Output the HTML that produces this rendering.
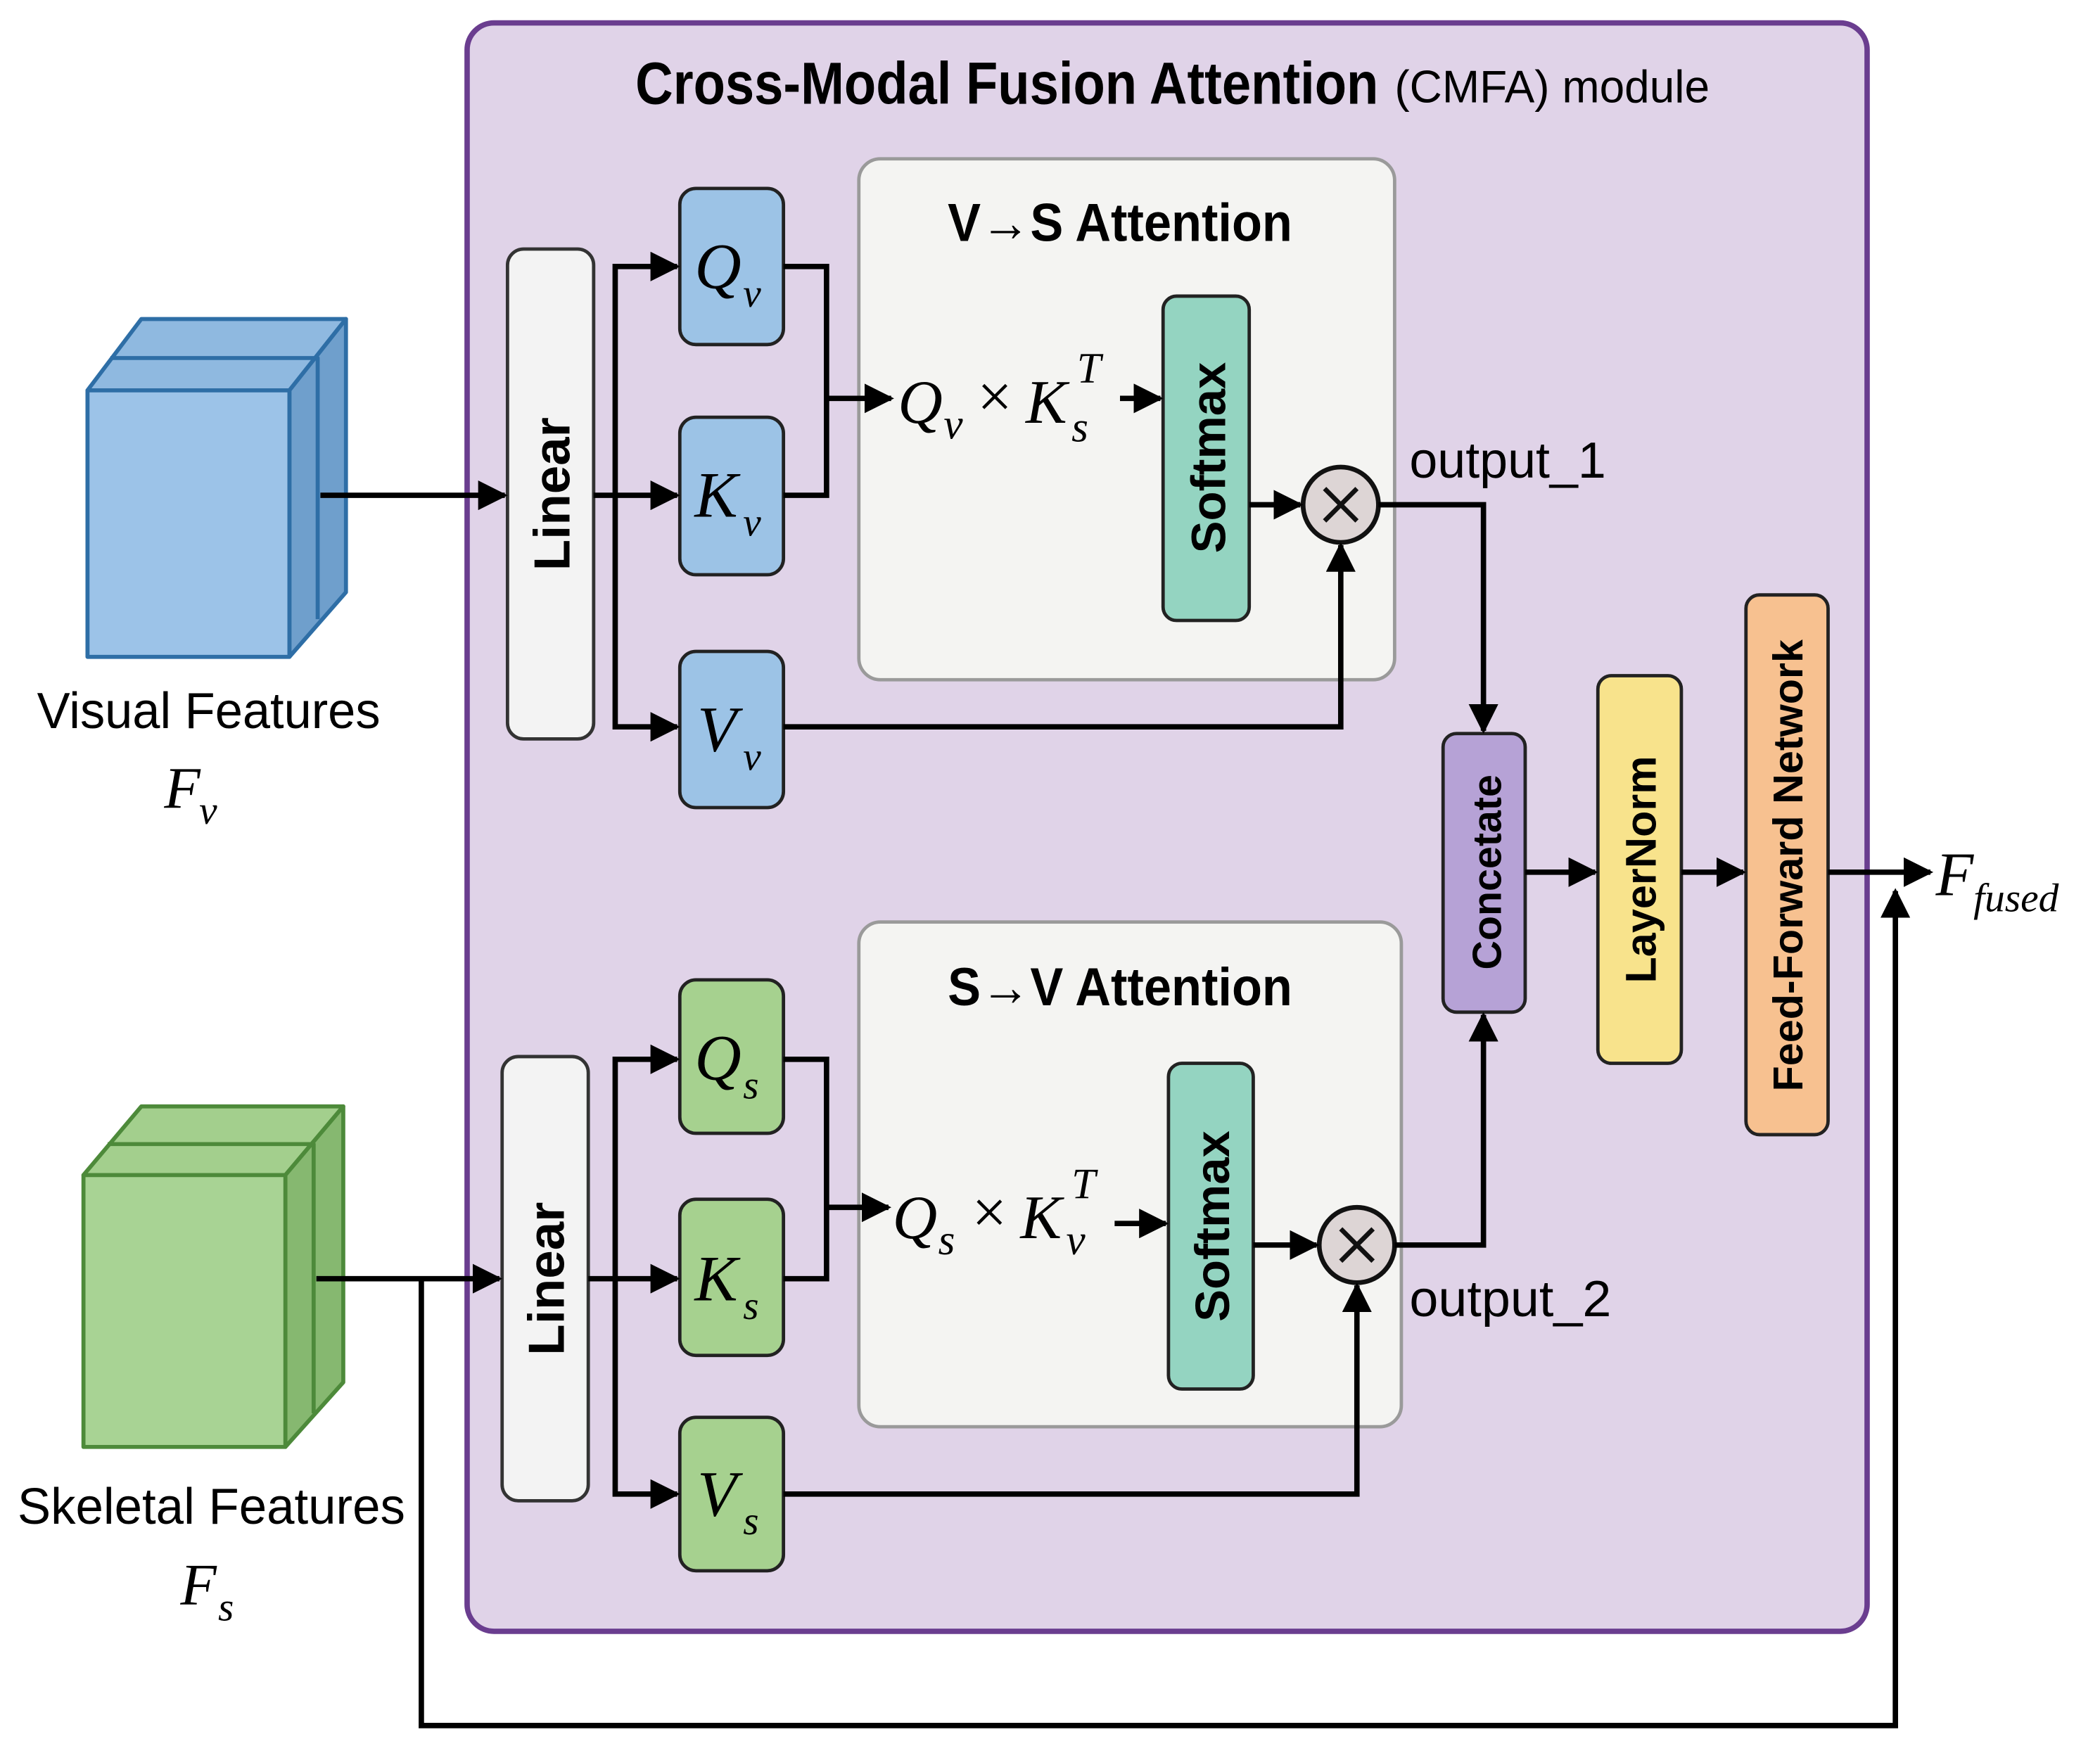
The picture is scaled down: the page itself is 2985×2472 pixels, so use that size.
<!DOCTYPE html>
<html><head><meta charset="utf-8"><style>
html,body{margin:0;padding:0;background:#fff}
svg{display:block}
.t{font-family:"Liberation Sans Narrow","Liberation Sans",sans-serif}
.b{font-family:"Liberation Sans",sans-serif;font-weight:bold}
.m{font-family:"Liberation Serif",serif;font-style:italic}
</style></head><body>
<svg width="2985" height="2472" viewBox="0 0 1560 1292" preserveAspectRatio="none" xmlns="http://www.w3.org/2000/svg">
<defs>
<marker id="a" viewBox="0 0 10 10" refX="9" refY="5" markerWidth="5.5" markerHeight="5.5" markerUnits="strokeWidth" orient="auto"><path d="M0,0 L10,5 L0,10 Z" fill="#000"/></marker>
</defs>
<rect width="1560" height="1292" fill="#fff"/>
<rect x="347" y="17" width="1040" height="1195" rx="20" fill="#e0d3e8" stroke="#6a3d8f" stroke-width="4"/>
<text x="472" y="77" class="t" font-size="44" font-weight="bold" textLength="552" lengthAdjust="spacingAndGlyphs">Cross-Modal Fusion Attention</text>
<text x="1036" y="76" class="t" font-size="34" textLength="234" lengthAdjust="spacingAndGlyphs">(CMFA) module</text>

<g stroke="#2e6ea6" stroke-width="3" stroke-linejoin="round">
<polygon points="65,290 105,237 257,237 215,290" fill="#8fb9e0"/>
<polygon points="215,290 257,237 257,440 215,488" fill="#6f9fcc"/>
<rect x="65" y="290" width="150" height="198" fill="#9cc3e8"/>
<polyline points="82,266 236,266 236,460" fill="none"/>
</g>
<text x="155" y="541" class="t" font-size="38" text-anchor="middle" textLength="255" lengthAdjust="spacingAndGlyphs">Visual Features</text>
<text x="122" y="600" class="m" font-size="44">F</text><text x="148" y="612" class="m" font-size="30">v</text>

<g stroke="#4d8a3a" stroke-width="3" stroke-linejoin="round">
<polygon points="62,873 105,822 255,822 212,873" fill="#a3cf8d"/>
<polygon points="212,873 255,822 255,1027 212,1075" fill="#86b870"/>
<rect x="62" y="873" width="150" height="202" fill="#a8d394"/>
<polyline points="80,850 233,850 233,1050" fill="none"/>
</g>
<text x="157" y="1132" class="t" font-size="38" text-anchor="middle" textLength="288" lengthAdjust="spacingAndGlyphs">Skeletal Features</text>
<text x="134" y="1192" class="m" font-size="44">F</text><text x="162" y="1204" class="m" font-size="30">s</text>

<rect x="377" y="185" width="64" height="364" rx="12" fill="#f3f3f3" stroke="#333" stroke-width="2.5"/>
<text transform="translate(423,367) rotate(-90)" class="b" font-size="38" text-anchor="middle">Linear</text>
<rect x="373" y="785" width="64" height="330" rx="12" fill="#f3f3f3" stroke="#333" stroke-width="2.5"/>
<text transform="translate(419,950) rotate(-90)" class="b" font-size="38" text-anchor="middle">Linear</text>

<rect x="638" y="118" width="398" height="387" rx="16" fill="#f4f4f2" stroke="#9a9a9a" stroke-width="2.5"/>
<text x="704" y="179" class="t" font-size="40" font-weight="bold" textLength="256" lengthAdjust="spacingAndGlyphs">V→S Attention</text>
<rect x="638" y="685" width="403" height="375" rx="16" fill="#f4f4f2" stroke="#9a9a9a" stroke-width="2.5"/>
<text x="704" y="747" class="t" font-size="40" font-weight="bold" textLength="256" lengthAdjust="spacingAndGlyphs">S→V Attention</text>

<g fill="#9cc3e6" stroke="#222" stroke-width="2.5">
<rect x="505" y="140" width="77" height="116" rx="12"/>
<rect x="505" y="310" width="77" height="117" rx="12"/>
<rect x="505" y="484" width="77" height="116" rx="12"/>
</g>
<g fill="#a6d18f" stroke="#222" stroke-width="2.5">
<rect x="505" y="728" width="77" height="114" rx="12"/>
<rect x="505" y="891" width="77" height="116" rx="12"/>
<rect x="505" y="1053" width="77" height="114" rx="12"/>
</g>
<g class="m" font-size="48">
<text x="516" y="214">Q</text><text x="552" y="228" font-size="30">v</text>
<text x="516" y="384">K</text><text x="552" y="398" font-size="30">v</text>
<text x="518" y="558">V</text><text x="552" y="572" font-size="30">v</text>
<text x="516" y="802">Q</text><text x="552" y="816" font-size="30">s</text>
<text x="516" y="966">K</text><text x="552" y="980" font-size="30">s</text>
<text x="518" y="1126">V</text><text x="552" y="1140" font-size="30">s</text>
</g>

<g class="m" font-size="46">
<text x="667" y="314">Q</text><text x="701" y="326" font-size="32">v</text>
<text x="726" y="310" font-style="normal">×</text>
<text x="762" y="314">K</text><text x="796" y="328" font-size="32">s</text><text x="800" y="284" font-size="32">T</text>
<text x="663" y="920">Q</text><text x="697" y="932" font-size="32">s</text>
<text x="722" y="916" font-style="normal">×</text>
<text x="758" y="920">K</text><text x="792" y="932" font-size="32">v</text><text x="796" y="890" font-size="32">T</text>
</g>

<rect x="864" y="220" width="64" height="241" rx="10" fill="#94d4c1" stroke="#222" stroke-width="2.5"/>
<text transform="translate(910,340) rotate(-90)" class="b" font-size="36" text-anchor="middle">Softmax</text>
<rect x="868" y="790" width="63" height="242" rx="10" fill="#94d4c1" stroke="#222" stroke-width="2.5"/>
<text transform="translate(913,911) rotate(-90)" class="b" font-size="36" text-anchor="middle">Softmax</text>

<g stroke="#111" stroke-width="3.5">
<circle cx="996" cy="375" r="28" fill="#ddd5d5"/>
<line x1="984" y1="363" x2="1008" y2="387"/><line x1="1008" y1="363" x2="984" y2="387"/>
<circle cx="1008" cy="925" r="28" fill="#ddd5d5"/>
<line x1="996" y1="913" x2="1020" y2="937"/><line x1="1020" y1="913" x2="996" y2="937"/>
</g>
<text x="1047" y="355" class="t" font-size="38" textLength="146" lengthAdjust="spacingAndGlyphs">output_1</text>
<text x="1047" y="978" class="t" font-size="38" textLength="150" lengthAdjust="spacingAndGlyphs">output_2</text>

<rect x="1072" y="545" width="61" height="207" rx="10" fill="#b6a2d6" stroke="#222" stroke-width="2.5"/>
<text transform="translate(1115,648) rotate(-90)" class="b" font-size="30" text-anchor="middle">Concetate</text>
<rect x="1187" y="502" width="62" height="288" rx="10" fill="#f8e38c" stroke="#222" stroke-width="2.5"/>
<text transform="translate(1230,646) rotate(-90)" class="b" font-size="32" text-anchor="middle">LayerNorm</text>
<rect x="1297" y="442" width="61" height="401" rx="10" fill="#f7c190" stroke="#222" stroke-width="2.5"/>
<text transform="translate(1339,643) rotate(-90)" class="b" font-size="31" text-anchor="middle">Feed-Forward Network</text>
<text x="1438" y="665" class="m" font-size="46">F</text><text x="1466" y="677" class="m" font-size="30">fused</text>

<g fill="none" stroke="#000" stroke-width="4" stroke-linejoin="miter">
<line x1="238" y1="368" x2="375" y2="368" marker-end="url(#a)"/>
<line x1="441" y1="368" x2="503" y2="368" marker-end="url(#a)"/>
<polyline points="457,368 457,198 503,198" marker-end="url(#a)"/>
<polyline points="457,368 457,540 503,540" marker-end="url(#a)"/>
<polyline points="582,198 614,198 614,368 582,368"/>
<line x1="614" y1="296" x2="662" y2="296" marker-end="url(#a)"/>
<line x1="832" y1="296" x2="862" y2="296" marker-end="url(#a)"/>
<line x1="928" y1="375" x2="966" y2="375" marker-end="url(#a)"/>
<polyline points="582,540 996,540 996,405" marker-end="url(#a)"/>
<polyline points="1024,375 1102,375 1102,543" marker-end="url(#a)"/>

<line x1="235" y1="950" x2="371" y2="950" marker-end="url(#a)"/>
<line x1="437" y1="950" x2="503" y2="950" marker-end="url(#a)"/>
<polyline points="457,950 457,787 503,787" marker-end="url(#a)"/>
<polyline points="457,950 457,1110 503,1110" marker-end="url(#a)"/>
<polyline points="582,787 614,787 614,950 582,950"/>
<line x1="614" y1="897" x2="660" y2="897" marker-end="url(#a)"/>
<line x1="828" y1="909" x2="866" y2="909" marker-end="url(#a)"/>
<line x1="931" y1="925" x2="978" y2="925" marker-end="url(#a)"/>
<polyline points="582,1110 1008,1110 1008,955" marker-end="url(#a)"/>
<polyline points="1036,925 1102,925 1102,754" marker-end="url(#a)"/>

<line x1="1133" y1="648" x2="1185" y2="648" marker-end="url(#a)"/>
<line x1="1249" y1="648" x2="1295" y2="648" marker-end="url(#a)"/>
<line x1="1358" y1="648" x2="1434" y2="648" marker-end="url(#a)"/>
<polyline points="313,950 313,1282 1408,1282 1408,662" marker-end="url(#a)"/>
</g>
</svg>
</body></html>
